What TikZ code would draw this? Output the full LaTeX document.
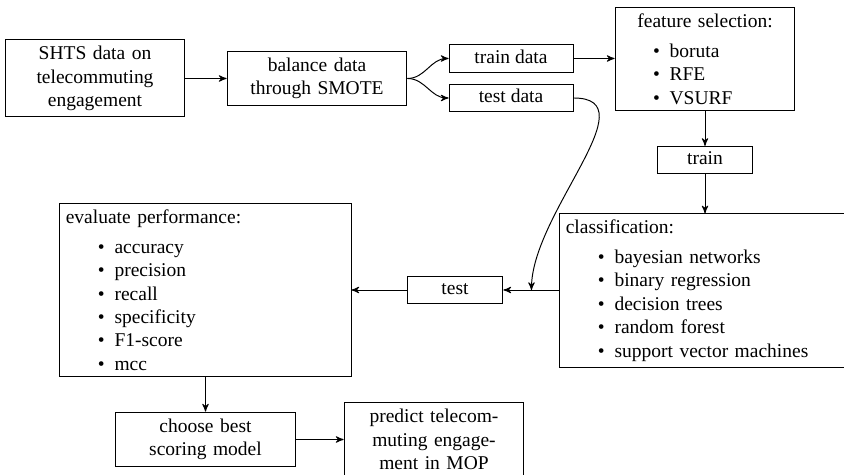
\documentclass[tikz,border=0pt]{standalone}
\usepackage{fontspec}
\setmainfont{Liberation Serif}
\usetikzlibrary{arrows}
\usetikzlibrary{calc}

\newcommand{\itm}[1]{\makebox[25pt][r]{\textbullet\hspace{5pt}}#1}

\begin{document}
\begin{tikzpicture}[x=0.513pt,y=0.513pt,
>=stealth',
line width=0.5pt,
every node/.style={inner sep=3pt}]
\tikzstyle{blk} = [draw, align=center, minimum width=92.3pt, text width=86.3pt]
\tikzstyle{sml} = [draw, align=center, text height=7pt, text depth=2pt, inner ysep=2.5pt]
\tikzstyle{lst} = [draw, align=left]

\useasboundingbox (0,0) rectangle (844,475);
\clip (0,0) rectangle (844,475);

% data preparation
\node[blk, minimum height=39.5pt](shts) at (95,396.5){SHTS data on\\telecommuting\\engagement};
\node[blk, minimum height=28.2pt](smote) at (317,396.5){balance data\\through SMOTE};
\node[sml, minimum width=63.6pt](traind) at (511,416.5){train data};
\node[sml, minimum width=63.6pt](testd) at (511,377){test data};

% training
\node[lst, text width=86.3pt, minimum height=52.3pt](feat) at (705,416){\makebox[\hsize]{feature selection:}\\[3.5pt]\itm{boruta}\\\itm{RFE}\\\itm{VSURF}};
\node[sml, minimum width=49.2pt](trn) at (705,315){train};
\node[lst, text width=142.8pt, minimum height=78.5pt](classif) at (705,184.5){classification:\\[3.5pt]\itm{bayesian networks}\\\itm{binary regression}\\\itm{decision trees}\\\itm{random forest}\\\itm{support vector machines}};

% testing
\node[sml, minimum width=49.2pt](tst) at (455,185){test};
\node[lst, text width=143.3pt, minimum height=88.2pt](eval) at (205.5,185){evaluate performance:\\[3.5pt]\itm{accuracy}\\\itm{precision}\\\itm{recall}\\\itm{specificity}\\\itm{F1-score}\\\itm{mcc}};
\node[blk, minimum height=28.2pt](choose) at (205.5,35.5){choose best\\scoring model};
\node[blk, minimum height=37.5pt](predict) at (434,35.5){predict telecom-\\muting engage-\\ment in MOP};

\draw[->] (shts) -- (smote);
\draw[->] (smote.east) to[out=0,in=180] (traind.west);
\draw[->] (smote.east) to[out=0,in=180] (testd.west);
\draw[->] (traind.east) -- (traind.east -| feat.west);
\draw[->] (feat) -- (trn);
\draw[->] (trn) -- (classif);
\draw[->] (tst.east -| classif.west) -- (tst.east);
\coordinate (j) at ($(tst.east)!0.5!(tst.east -| classif.west)$);
\draw[->] (testd.east) to[out=0,in=90] (j);
\draw[->] (tst) -- (eval);
\draw[->] (eval) -- (choose);
\draw[->] (choose) -- (predict);

\end{tikzpicture}
\end{document}
